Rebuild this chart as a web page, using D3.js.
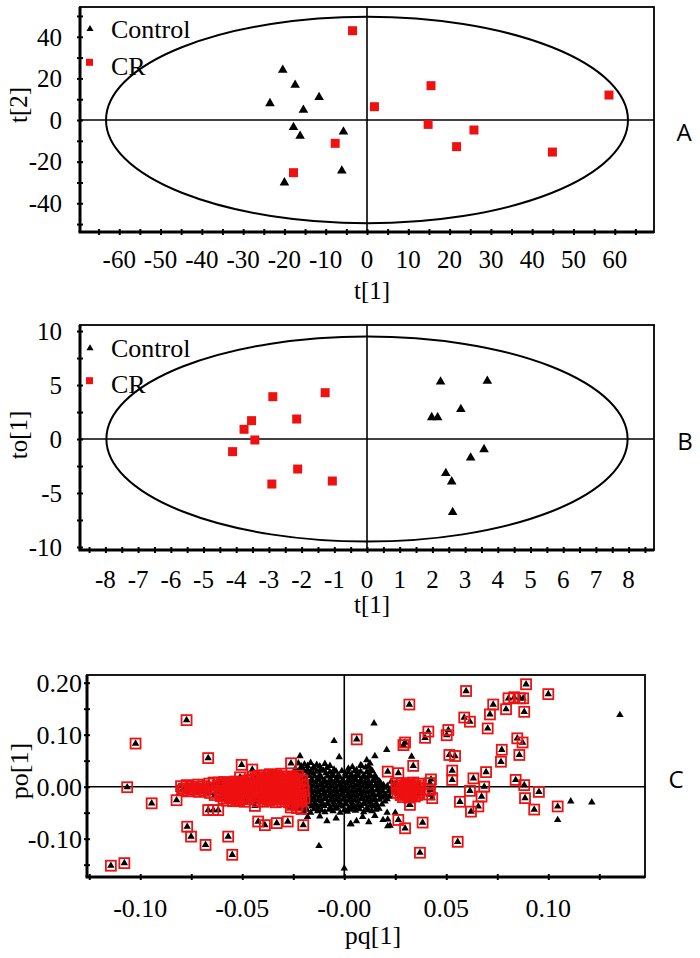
<!DOCTYPE html>
<html><head><meta charset="utf-8">
<script src="https://cdn.jsdelivr.net/npm/d3@7"></script>
<style>body{margin:0;background:#fff}svg{display:block}</style>
</head><body>
<svg id="chart" width="700" height="958"></svg>
<script>
// ---------------- DATA ----------------
// Panel A: PCA-type score plot t[1] vs t[2]
const scoreAControl = [[-23.5,8.0],[-20.4,24.0],[-17.4,16.8],[-11.6,10.9],[-15.4,4.8],[-17.8,-3.5],[-16.2,-7.7],[-5.7,-5.6],[-6.1,-24.4],[-20.0,-30.1]];
const scoreACR = [[-3.5,42.9],[-7.7,-11.2],[-17.8,-25.3],[1.8,6.4],[15.5,16.5],[14.8,-2.1],[25.9,-4.8],[21.7,-12.8],[44.9,-15.4],[58.6,12.0]];
const ellipseA = [63.2, 49.6];
const xTicksA = [-65,-60,-55,-50,-45,-40,-35,-30,-25,-20,-15,-10,-5,0,5,10,15,20,25,30,35,40,45,50,55,60,65];
const xLabelsA = [-60,-50,-40,-30,-20,-10,0,10,20,30,40,50,60];
const yTicksA = [-50,-40,-30,-20,-10,0,10,20,30,40,50];
const yLabelsA = [40,20,0,-20,-40];

// Panel B: OPLS-DA score plot t[1] vs to[1]
const scoreBControl = [[2.25,5.31],[3.68,5.37],[2.87,2.75],[1.98,2.0],[2.16,2.0],[3.58,-0.96],[3.17,-1.73],[2.41,-3.18],[2.59,-3.95],[2.62,-6.79]];
const scoreBCR = [[-2.88,3.92],[-1.28,4.29],[-2.15,1.85],[-3.53,1.70],[-3.76,0.90],[-3.43,-0.09],[-4.11,-1.17],[-2.12,-2.78],[-2.91,-4.17],[-1.06,-3.89]];
const ellipseB = [7.97, 9.5];
const xTicksB = [-8.5,-8,-7.5,-7,-6.5,-6,-5.5,-5,-4.5,-4,-3.5,-3,-2.5,-2,-1.5,-1,-0.5,0,0.5,1,1.5,2,2.5,3,3.5,4,4.5,5,5.5,6,6.5,7,7.5,8,8.5];
const xLabelsB = [-8,-7,-6,-5,-4,-3,-2,-1,0,1,2,3,4,5,6,7,8];
const yTicksB = [-10,-7.5,-5,-2.5,0,2.5,5,7.5,10];
const yLabelsB = [10,5,0,-5,-10];

// Panel C: S-plot loadings pq[1] vs po[1]
// variables outside the boxed selection (black triangles only)
const loadCloud = [
[-0.0225,0.045],[-0.0195,0.043],[-0.0165,0.046],[-0.0135,0.042],[-0.0095,0.044],
[-0.0240,0.034],[-0.0210,0.036],[-0.0180,0.033],[-0.0150,0.035],[-0.0118,0.032],[-0.0085,0.036],[-0.0050,0.033],[0.0020,0.035],[0.0060,0.032],[0.0105,0.037],[0.0130,0.033],
[-0.0245,0.024],[-0.0215,0.026],[-0.0182,0.023],[-0.0152,0.025],[-0.0120,0.022],[-0.0090,0.026],[-0.0058,0.024],[-0.0030,0.021],[0.0005,0.025],[0.0035,0.023],[0.0065,0.026],[0.0095,0.022],[0.0125,0.024],[0.0150,0.021],
[-0.0250,0.015],[-0.0222,0.013],[-0.0190,0.016],[-0.0160,0.014],[-0.0128,0.017],[-0.0098,0.013],[-0.0068,0.015],[-0.0038,0.016],[-0.0008,0.013],[0.0022,0.015],[0.0052,0.017],[0.0082,0.014],[0.0112,0.016],[0.0142,0.013],[0.0170,0.011],
[-0.0262,0.006],[-0.0232,0.004],[-0.0200,0.007],[-0.0170,0.005],[-0.0140,0.008],[-0.0108,0.004],[-0.0078,0.006],[-0.0048,0.007],[-0.0018,0.004],[0.0012,0.006],[0.0042,0.008],[0.0072,0.005],[0.0102,0.007],[0.0132,0.004],[0.0162,0.006],[0.0192,0.003],
[-0.0258,-0.003],[-0.0228,-0.005],[-0.0196,-0.002],[-0.0165,-0.004],[-0.0135,-0.001],[-0.0103,-0.005],[-0.0073,-0.003],[-0.0043,-0.002],[-0.0013,-0.005],[0.0017,-0.003],[0.0047,-0.001],[0.0077,-0.004],[0.0107,-0.002],[0.0137,-0.005],[0.0167,-0.003],[0.0197,-0.002],[0.0225,-0.006],
[-0.0252,-0.012],[-0.0220,-0.014],[-0.0190,-0.011],[-0.0158,-0.013],[-0.0128,-0.010],[-0.0096,-0.014],[-0.0066,-0.012],[-0.0036,-0.011],[-0.0006,-0.014],[0.0024,-0.012],[0.0054,-0.010],[0.0084,-0.013],[0.0114,-0.011],[0.0144,-0.014],[0.0174,-0.012],[0.0204,-0.015],[0.0232,-0.011],
[-0.0245,-0.021],[-0.0213,-0.023],[-0.0182,-0.020],[-0.0150,-0.022],[-0.0120,-0.019],[-0.0090,-0.023],[-0.0060,-0.021],[-0.0030,-0.020],[0.0000,-0.023],[0.0030,-0.021],[0.0060,-0.019],[0.0090,-0.022],[0.0120,-0.020],[0.0150,-0.023],[0.0180,-0.021],[0.0210,-0.024],
[-0.0235,-0.030],[-0.0205,-0.032],[-0.0175,-0.029],[-0.0143,-0.031],[-0.0113,-0.028],[-0.0083,-0.032],[-0.0053,-0.030],[-0.0023,-0.029],[0.0007,-0.032],[0.0037,-0.030],[0.0067,-0.028],[0.0097,-0.031],[0.0127,-0.029],[0.0157,-0.032],[0.0185,-0.034],
[-0.0220,-0.039],[-0.0190,-0.041],[-0.0160,-0.038],[-0.0128,-0.040],[-0.0098,-0.037],[-0.0068,-0.041],[-0.0038,-0.039],[-0.0008,-0.038],[0.0022,-0.041],[0.0052,-0.039],[0.0082,-0.037],[0.0112,-0.040],[0.0142,-0.038],[0.0170,-0.042],
[-0.0200,-0.048],[-0.0165,-0.050],[-0.0130,-0.047],[-0.0095,-0.049],[-0.0055,-0.047],[-0.0020,-0.050],[0.0015,-0.048],[0.0055,-0.046],[0.0095,-0.049],[0.0135,-0.047],[0.0210,-0.050],
[-0.0120,-0.057],[-0.0040,-0.061],[0.0030,-0.072],[0.0090,-0.058],[0.0150,-0.056],[0.0190,-0.064],[0.0225,-0.075],[-0.0180,-0.058],[0.0060,-0.066],[-0.0085,-0.066],[0.0120,-0.068],
[0.0110,0.051],[0.0126,0.045],[0.0080,0.041],[0.0230,0.010],[0.0250,-0.004],[0.0320,-0.035],[0.0250,-0.050]
];
const loadCloud2 = [
[-0.0210,0.039],[-0.0180,0.040],[-0.0150,0.038],[-0.0120,0.039],[-0.0070,0.040],[0.0040,0.038],[0.0085,0.040],[0.0118,0.039],
[-0.0228,0.029],[-0.0197,0.030],[-0.0166,0.028],[-0.0135,0.029],[-0.0103,0.031],[-0.0070,0.028],[-0.0040,0.029],[-0.0012,0.030],[0.0020,0.028],[0.0050,0.030],[0.0080,0.029],[0.0110,0.028],[0.0138,0.030],
[-0.0236,0.020],[-0.0205,0.019],[-0.0175,0.021],[-0.0145,0.020],[-0.0113,0.018],[-0.0083,0.020],[-0.0053,0.021],[-0.0023,0.019],[0.0007,0.020],[0.0037,0.018],[0.0067,0.021],[0.0097,0.019],[0.0127,0.020],[0.0157,0.017],
[-0.0247,0.010],[-0.0216,0.011],[-0.0185,0.009],[-0.0155,0.010],[-0.0124,0.012],[-0.0093,0.009],[-0.0063,0.010],[-0.0033,0.011],[-0.0003,0.009],[0.0027,0.010],[0.0057,0.012],[0.0087,0.009],[0.0117,0.010],[0.0147,0.011],[0.0177,0.008],
[-0.0243,0.001],[-0.0212,0.002],[-0.0181,0.000],[-0.0150,0.001],[-0.0119,0.003],[-0.0088,0.000],[-0.0058,0.001],[-0.0028,0.002],[0.0002,0.000],[0.0032,0.001],[0.0062,0.003],[0.0092,0.000],[0.0122,0.001],[0.0152,0.002],[0.0182,0.000],[0.0211,0.001],[0.0240,-0.001],
[-0.0240,-0.008],[-0.0205,-0.007],[-0.0174,-0.009],[-0.0143,-0.008],[-0.0112,-0.006],[-0.0081,-0.009],[-0.0051,-0.008],[-0.0021,-0.007],[0.0009,-0.009],[0.0039,-0.008],[0.0069,-0.006],[0.0099,-0.009],[0.0129,-0.008],[0.0159,-0.007],[0.0189,-0.009],[0.0218,-0.008],[0.0245,-0.010],
[-0.0230,-0.017],[-0.0198,-0.016],[-0.0167,-0.018],[-0.0136,-0.017],[-0.0105,-0.015],[-0.0075,-0.018],[-0.0045,-0.017],[-0.0015,-0.016],[0.0015,-0.018],[0.0045,-0.017],[0.0075,-0.015],[0.0105,-0.018],[0.0135,-0.017],[0.0165,-0.016],[0.0195,-0.018],[0.0222,-0.019],
[-0.0220,-0.026],[-0.0190,-0.025],[-0.0160,-0.027],[-0.0128,-0.026],[-0.0098,-0.024],[-0.0068,-0.027],[-0.0038,-0.026],[-0.0008,-0.025],[0.0022,-0.027],[0.0052,-0.026],[0.0082,-0.024],[0.0112,-0.027],[0.0142,-0.026],[0.0172,-0.025],[0.0200,-0.028],
[-0.0205,-0.035],[-0.0175,-0.034],[-0.0145,-0.036],[-0.0113,-0.035],[-0.0083,-0.033],[-0.0053,-0.036],[-0.0023,-0.035],[0.0007,-0.034],[0.0037,-0.036],[0.0067,-0.035],[0.0097,-0.033],[0.0127,-0.036],[0.0157,-0.035],
[-0.0185,-0.044],[-0.0148,-0.043],[-0.0112,-0.045],[-0.0075,-0.044],[-0.0038,-0.042],[0.0000,-0.045],[0.0035,-0.044],[0.0075,-0.043],[0.0115,-0.045],[0.0155,-0.044]
];
const loadScatter = [[0.1351,0.138],[0.1110,-0.028],[0.1213,-0.030],[0.1046,-0.064],[0.0146,0.122],[0.0208,0.071],[0.0330,0.058],[0.0150,0.059],[-0.0050,0.088],[-0.0025,0.057],[-0.0217,0.059],[-0.0124,-0.114],[0.0000,-0.157],[0.0033,-0.072],[0.0213,-0.063],[0.0213,-0.076]];
// boxed (selected) variables: isolated ones
const loadBoxed = [
[-0.0773,0.128],[-0.1023,0.083],[-0.0667,0.055],[-0.1064,-0.001],[-0.0944,-0.032],[-0.0822,-0.026],[-0.0770,-0.077],[-0.0751,-0.096],[-0.0680,-0.112],[-0.0667,-0.045],[-0.0642,-0.045],[-0.0618,-0.045],[-0.1144,-0.152],[-0.1078,-0.147],[-0.0569,-0.096],[-0.0549,-0.131],
[-0.0503,0.042],[-0.0451,0.033],[-0.0261,0.045],[-0.0511,0.018],[-0.0438,-0.037],[-0.0422,-0.067],[-0.0389,-0.074],[-0.0331,-0.070],[-0.0277,-0.067],[-0.0201,-0.074],
[0.0061,0.091],[0.0319,0.158],[0.0597,0.184],[0.0588,0.133],[0.0616,0.125],[0.0412,0.106],[0.0396,0.094],[0.0298,0.085],[0.0290,0.080],[0.0510,0.109],[0.0502,0.099],[0.0515,0.061],[0.0543,0.059],[0.0338,0.040],[0.0529,0.031],[0.0529,0.013],[0.0213,0.029],[0.0265,0.026],[0.0420,0.007],[0.0420,-0.006],[0.0431,-0.022],[0.0633,0.016],[0.0567,-0.029],[0.0621,-0.048],[0.0657,-0.038],[0.0265,-0.064],[0.0298,-0.080],[0.0384,-0.069],[0.0556,-0.106],[0.0371,-0.127],[0.0322,-0.035],[0.0616,-0.008],
[0.0891,0.197],[0.1000,0.178],[0.0805,0.170],[0.0833,0.172],[0.0861,0.170],[0.0877,0.170],[0.0730,0.158],[0.0793,0.149],[0.0882,0.144],[0.0714,0.139],[0.0703,0.112],[0.0848,0.093],[0.0874,0.085],[0.0772,0.071],[0.0858,0.061],[0.0768,0.048],[0.0695,0.028],[0.0840,0.013],[0.0882,0.003],[0.0954,-0.010],[0.0686,0.000],[0.0673,-0.019],[0.0886,-0.022],[0.0931,-0.044],[0.1046,-0.038]
];
// boxed (selected) variables: dense groups
const loadBoxedDense = [
[-0.0800,0.001],[-0.0772,0.003],[-0.0745,0.000],[-0.0717,0.004],[-0.0690,0.001],[-0.0662,0.006],[-0.0640,0.008],
[-0.0795,-0.007],[-0.0768,-0.009],[-0.0740,-0.006],[-0.0712,-0.010],[-0.0685,-0.008],[-0.0658,-0.012],[-0.0635,-0.016],
[-0.0615,0.008],[-0.0588,0.009],[-0.0560,0.007],[-0.0532,0.010],[-0.0505,0.009],[-0.0478,0.012],
[-0.0620,0.002],[-0.0592,0.003],[-0.0565,0.001],[-0.0537,0.004],[-0.0510,0.002],[-0.0482,0.005],
[-0.0612,-0.008],[-0.0585,-0.007],[-0.0557,-0.009],[-0.0530,-0.006],[-0.0502,-0.008],[-0.0475,-0.007],
[-0.0605,-0.018],[-0.0578,-0.017],[-0.0550,-0.019],[-0.0522,-0.016],[-0.0495,-0.018],[-0.0468,-0.020],
[-0.0575,-0.027],[-0.0545,-0.028],[-0.0515,-0.026],[-0.0488,-0.029],
[-0.0448,0.019],[-0.0420,0.021],[-0.0392,0.022],[-0.0364,0.024],[-0.0336,0.022],[-0.0308,0.025],
[-0.0452,0.012],[-0.0424,0.013],[-0.0396,0.011],[-0.0368,0.014],[-0.0340,0.012],[-0.0312,0.013],
[-0.0450,0.002],[-0.0422,0.003],[-0.0394,0.001],[-0.0366,0.004],[-0.0338,0.002],[-0.0310,0.003],
[-0.0446,-0.008],[-0.0418,-0.007],[-0.0390,-0.009],[-0.0362,-0.006],[-0.0334,-0.008],[-0.0306,-0.007],
[-0.0440,-0.018],[-0.0412,-0.017],[-0.0384,-0.019],[-0.0356,-0.016],[-0.0328,-0.018],[-0.0300,-0.019],
[-0.0425,-0.028],[-0.0395,-0.029],[-0.0365,-0.027],[-0.0335,-0.030],[-0.0305,-0.028],
[-0.0282,0.020],[-0.0255,0.018],[-0.0228,0.021],
[-0.0285,0.010],[-0.0258,0.011],[-0.0230,0.009],[-0.0205,0.012],
[-0.0283,0.000],[-0.0256,0.001],[-0.0228,-0.001],[-0.0202,0.002],
[-0.0280,-0.010],[-0.0252,-0.009],[-0.0225,-0.011],[-0.0198,-0.008],
[-0.0278,-0.020],[-0.0250,-0.021],[-0.0222,-0.019],[-0.0195,-0.022],
[-0.0272,-0.030],[-0.0245,-0.031],[-0.0218,-0.029],
[-0.0262,-0.040],[-0.0232,-0.041],[-0.0210,-0.043],
[0.0255,0.006],[0.0283,0.007],[0.0310,0.005],[0.0338,0.008],[0.0362,0.006],
[0.0258,-0.003],[0.0286,-0.002],[0.0313,-0.004],[0.0340,-0.001],[0.0365,-0.003],
[0.0262,-0.012],[0.0290,-0.011],[0.0316,-0.013],[0.0343,-0.010],[0.0368,-0.012],
[0.0288,-0.020],[0.0318,-0.021],[0.0346,-0.019],[0.0415,-0.015],[0.0425,0.014]
];
const loadBoxedDense2 = [
[-0.0786,-0.004],[-0.0758,-0.003],[-0.0731,-0.005],[-0.0703,-0.003],[-0.0676,-0.004],[-0.0649,-0.002],
[-0.0601,0.005],[-0.0574,0.006],[-0.0546,0.004],[-0.0518,0.007],[-0.0491,0.006],[-0.0463,0.008],
[-0.0601,-0.003],[-0.0574,-0.002],[-0.0546,-0.004],[-0.0518,-0.001],[-0.0491,-0.003],[-0.0463,-0.002],
[-0.0601,-0.013],[-0.0574,-0.012],[-0.0546,-0.014],[-0.0518,-0.011],[-0.0491,-0.013],[-0.0463,-0.012],
[-0.0592,-0.023],[-0.0560,-0.022],[-0.0530,-0.024],[-0.0502,-0.021],[-0.0475,-0.024],
[-0.0434,0.016],[-0.0406,0.017],[-0.0378,0.018],[-0.0350,0.019],[-0.0322,0.017],[-0.0295,0.019],
[-0.0434,0.007],[-0.0406,0.008],[-0.0378,0.006],[-0.0350,0.009],[-0.0322,0.007],[-0.0295,0.008],
[-0.0434,-0.003],[-0.0406,-0.002],[-0.0378,-0.004],[-0.0350,-0.001],[-0.0322,-0.003],[-0.0295,-0.002],
[-0.0434,-0.013],[-0.0406,-0.012],[-0.0378,-0.014],[-0.0350,-0.011],[-0.0322,-0.013],[-0.0295,-0.012],
[-0.0430,-0.023],[-0.0402,-0.022],[-0.0374,-0.024],[-0.0346,-0.021],[-0.0318,-0.023],[-0.0292,-0.024],
[-0.0270,0.015],[-0.0242,0.016],[-0.0215,0.014],
[-0.0270,0.005],[-0.0242,0.006],[-0.0215,0.004],
[-0.0270,-0.005],[-0.0242,-0.004],[-0.0215,-0.006],
[-0.0268,-0.015],[-0.0240,-0.014],[-0.0212,-0.016],
[-0.0262,-0.025],[-0.0235,-0.024],[-0.0208,-0.026],
[-0.0255,-0.035],[-0.0228,-0.036],
[0.0269,0.002],[0.0297,0.001],[0.0324,0.003],[0.0351,0.002],
[0.0272,-0.007],[0.0300,-0.008],[0.0327,-0.006],[0.0354,-0.007],
[0.0276,-0.016],[0.0303,-0.015],[0.0330,-0.017],[0.0357,-0.016]
];
const xTicksC = [-0.125,-0.1,-0.075,-0.05,-0.025,0,0.025,0.05,0.075,0.1,0.125];
const xLabelsC = [[-0.10,"-0.10"],[-0.05,"-0.05"],[0,"-0.00"],[0.05,"0.05"],[0.10,"0.10"]];
const yTicksC = [-0.15,-0.1,-0.05,0,0.05,0.1,0.15,0.2];
const yLabelsC = [[0.20,"0.20"],[0.10,"0.10"],[0.00,"0.00"],[-0.10,"-0.10"]];

// ---------------- DRAWING ----------------
const svg = d3.select("#chart");
const SERIF = "'Liberation Serif','Times New Roman',serif";
const RED = "#ee1111";

function panel(o) {
  const g = svg.append("g");
  const x = d3.scaleLinear().domain(o.xDomain).range([o.left, o.right]);
  const y = d3.scaleLinear().domain(o.yDomain).range([o.bottom, o.top]);
  g.append("rect").attr("x", o.left).attr("y", o.top)
    .attr("width", o.right - o.left).attr("height", o.bottom - o.top)
    .attr("fill", "none").attr("stroke", "#000").attr("stroke-width", 1.8);
  g.append("line").attr("x1", o.left).attr("x2", o.right).attr("y1", y(0)).attr("y2", y(0))
    .attr("stroke", "#000").attr("stroke-width", 1.6);
  g.append("line").attr("x1", x(0)).attr("x2", x(0)).attr("y1", o.top).attr("y2", o.bottom)
    .attr("stroke", "#000").attr("stroke-width", 1.6);
  g.append("line").attr("x1", o.left).attr("x2", o.left).attr("y1", o.top).attr("y2", o.bottom)
    .attr("stroke", "#000").attr("stroke-width", 3);
  g.append("line").attr("x1", o.left - 1.5).attr("x2", o.right).attr("y1", o.bottom).attr("y2", o.bottom)
    .attr("stroke", "#000").attr("stroke-width", 3);
  const ya = g.append("g").attr("transform", `translate(${o.left + 3},0)`)
    .call(d3.axisLeft(y).tickValues(o.yTicks).tickSize(6).tickFormat(""));
  ya.select(".domain").remove();
  ya.selectAll("line").attr("stroke-width", 2);
  const xa = g.append("g").attr("transform", `translate(0,${o.bottom - 3})`)
    .call(d3.axisBottom(x).tickValues(o.xTicks).tickSize(6).tickFormat(""));
  xa.select(".domain").remove();
  xa.selectAll("line").attr("stroke-width", 2);
  g.selectAll(".yl").data(o.yLabels).enter().append("text")
    .attr("x", o.yLabelEnd).attr("y", d => y(d[0])).attr("dy", "0.35em")
    .attr("text-anchor", "end").attr("font-family", SERIF).attr("font-size", o.fs)
    .text(d => d[1]);
  g.selectAll(".xl").data(o.xLabels).enter().append("text")
    .attr("x", d => x(d[0])).attr("y", o.xLabelBase)
    .attr("text-anchor", "middle").attr("font-family", SERIF).attr("font-size", o.fs)
    .text(d => d[1]);
  g.append("text").attr("x", o.xTitleX).attr("y", o.xTitleBase).attr("text-anchor", "middle")
    .attr("font-family", SERIF).attr("font-size", o.fs).text(o.xTitle);
  g.append("text").attr("transform", `translate(${o.yTitleX},${o.yTitleY}) rotate(-90)`)
    .attr("text-anchor", "middle").attr("font-family", SERIF).attr("font-size", o.fs).text(o.yTitle);
  g.append("text").attr("x", o.letterX).attr("y", o.letterY).attr("dy", "0.35em")
    .attr("text-anchor", "middle").attr("font-family", "'Open Sans','Liberation Sans',sans-serif")
    .attr("font-size", 24).text(o.letter);
  return {g, x, y};
}

function legend(g, ty, sy) {
  g.append("path").attr("d", d3.symbol().type(d3.symbolTriangle).size(22)())
    .attr("transform", `translate(90,${ty})`).attr("fill", "#000");
  g.append("text").attr("x", 111).attr("y", ty + 9).attr("font-family", SERIF).attr("font-size", 26).text("Control");
  g.append("rect").attr("x", 86).attr("y", sy - 3.5).attr("width", 7).attr("height", 7).attr("fill", RED);
  g.append("text").attr("x", 111).attr("y", sy + 12.5).attr("font-family", SERIF).attr("font-size", 26).text("CR");
}

function scores(p, ctrl, cr, ell) {
  p.g.append("ellipse").attr("cx", p.x(0)).attr("cy", p.y(0))
    .attr("rx", p.x(ell[0]) - p.x(0)).attr("ry", p.y(0) - p.y(ell[1]))
    .attr("fill", "none").attr("stroke", "#000").attr("stroke-width", 2);
  p.g.selectAll(".ctl").data(ctrl).enter().append("path")
    .attr("d", d3.symbol().type(d3.symbolTriangle).size(40)())
    .attr("transform", d => `translate(${p.x(d[0])},${p.y(d[1])})`).attr("fill", "#000");
  p.g.selectAll(".cr").data(cr).enter().append("rect")
    .attr("x", d => p.x(d[0]) - 4.5).attr("y", d => p.y(d[1]) - 4.5)
    .attr("width", 9).attr("height", 9).attr("fill", RED);
}

const pA = panel({
  left: 80, right: 654, top: 7, bottom: 232,
  xDomain: [-69.5, 69.5], yDomain: [-53.8, 54.3],
  xTicks: xTicksA, yTicks: yTicksA,
  xLabels: xLabelsA.map(v => [v, String(v)]), yLabels: yLabelsA.map(v => [v, String(v)]),
  fs: 25, yLabelEnd: 62, xLabelBase: 268,
  xTitle: "t[1]", xTitleX: 372, xTitleBase: 299,
  yTitle: "t[2]", yTitleX: 27, yTitleY: 105,
  letter: "A", letterX: 684, letterY: 133
});
scores(pA, scoreAControl, scoreACR, ellipseA);
legend(pA.g, 29, 62.3);

const pB = panel({
  left: 80, right: 654, top: 325, bottom: 550,
  xDomain: [-8.777, 8.777], yDomain: [-10.28, 10.56],
  xTicks: xTicksB, yTicks: yTicksB,
  xLabels: xLabelsB.map(v => [v, String(v)]), yLabels: yLabelsB.map(v => [v, String(v)]),
  fs: 25, yLabelEnd: 62, xLabelBase: 588,
  xTitle: "t[1]", xTitleX: 372, xTitleBase: 613,
  yTitle: "to[1]", yTitleX: 27, yTitleY: 435,
  letter: "B", letterX: 685, letterY: 442
});
scores(pB, scoreBControl, scoreBCR, ellipseB);
legend(pB.g, 348.3, 380.7);

const pC = panel({
  left: 87, right: 645, top: 675, bottom: 877,
  xDomain: [-0.1261, 0.1474], yDomain: [-0.1737, 0.2148],
  xTicks: xTicksC, yTicks: yTicksC,
  xLabels: xLabelsC, yLabels: yLabelsC,
  fs: 26, yLabelEnd: 82, xLabelBase: 917,
  xTitle: "pq[1]", xTitleX: 373, xTitleBase: 944,
  yTitle: "po[1]", yTitleX: 28, yTitleY: 771,
  letter: "C", letterX: 676, letterY: 780
});
const tri = d3.symbol().type(d3.symbolTriangle).size(24)();
const allTri = loadCloud.concat(loadCloud2, loadScatter, loadBoxed, loadBoxedDense, loadBoxedDense2);
pC.g.selectAll(".v").data(allTri).enter().append("path")
  .attr("d", tri).attr("transform", d => `translate(${pC.x(d[0])},${pC.y(d[1])})`).attr("fill", "#000");
pC.g.selectAll(".b").data(loadBoxedDense.concat(loadBoxedDense2, loadBoxed)).enter().append("rect")
  .attr("x", d => pC.x(d[0]) - 5).attr("y", d => pC.y(d[1]) - 5)
  .attr("width", 10).attr("height", 10).attr("fill", "none")
  .attr("stroke", RED).attr("stroke-width", 1.8);
</script>
</body></html>
